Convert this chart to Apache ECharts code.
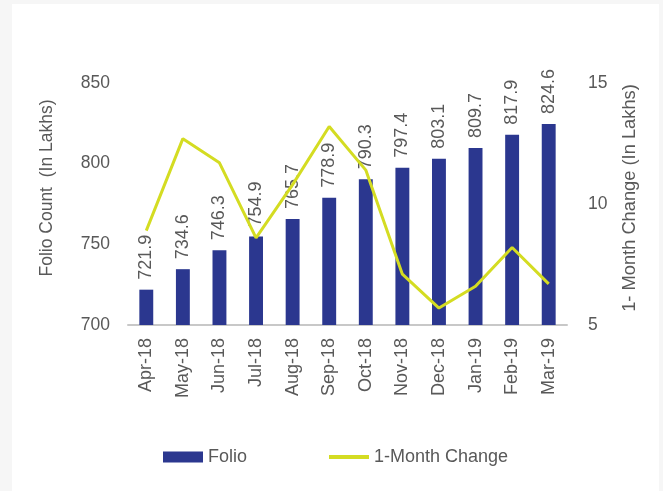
<!DOCTYPE html>
<html>
<head>
<meta charset="utf-8">
<script src="https://cdn.jsdelivr.net/npm/echarts@6/dist/echarts.min.js"></script>
<style>
    html, body { margin: 0; padding: 0; background: #f6f6f6; }
    #card { position: absolute; left: 12px; top: 4px; width: 647px; height: 487px; background: #ffffff; }
    #chart { position: absolute; left: 0; top: 0; width: 663px; height: 491px; }
</style>
</head>
<body>
<div id="card"></div>
<div id="chart"></div>
<script>
var months = ['Apr-18','May-18','Jun-18','Jul-18','Aug-18','Sep-18','Oct-18','Nov-18','Dec-18','Jan-19','Feb-19','Mar-19'];
var folio = [721.9, 734.6, 746.3, 754.9, 765.7, 778.9, 790.3, 797.4, 803.1, 809.7, 817.9, 824.6];
var monthChange = [8.9, 12.7, 11.7, 8.6, 10.8, 13.2, 11.4, 7.1, 5.7, 6.6, 8.2, 6.7];

var textColor = '#595959';
var font = 'Liberation Sans, Arial, sans-serif';

var chart = echarts.init(document.getElementById('chart'));
var option = {
    backgroundColor: 'transparent',
    textStyle: { fontFamily: font },
    animation: false,
    grid: {
        left: 128,
        right: 96,
        top: 83,
        bottom: 166
    },
    legend: {
        left: 158,
        top: 443,
        itemWidth: 40,
        itemHeight: 11,
        itemGap: 80,
        itemTextGap: 5,
        textStyle: { color: textColor, fontSize: 18, fontFamily: font },
        data: [
            { name: 'Folio', icon: 'rect' },
            { name: '1-Month Change', itemStyle: { opacity: 0 }, lineStyle: { width: 4 } }
        ]
    },
    xAxis: {
        type: 'category',
        data: months,
        axisLine: { lineStyle: { color: '#c8c8c8', width: 2 } },
        axisTick: { show: false },
        axisLabel: {
            rotate: 90,
            margin: 13,
            color: textColor,
            fontSize: 18,
            fontFamily: font
        }
    },
    yAxis: [
        {
            type: 'value',
            min: 700,
            max: 850,
            interval: 50,
            name: 'Folio Count  (In Lakhs)',
            nameLocation: 'middle',
            nameRotate: 90,
            nameGap: 72,
            nameTextStyle: { color: textColor, fontSize: 17.5, fontFamily: font, padding: [0, 0, 0, 32] },
            splitLine: { show: false },
            axisLine: { show: false },
            axisTick: { show: false },
            axisLabel: { color: textColor, fontSize: 17.5, margin: 18, fontFamily: font }
        },
        {
            type: 'value',
            min: 5,
            max: 15,
            interval: 5,
            name: '1- Month Change (In Lakhs)',
            nameLocation: 'middle',
            nameRotate: 90,
            nameGap: 54,
            nameTextStyle: { color: textColor, fontSize: 18.3, fontFamily: font, padding: [0, 0, 0, 12] },
            splitLine: { show: false },
            axisLine: { show: false },
            axisTick: { show: false },
            axisLabel: { color: textColor, fontSize: 17.5, margin: 21, fontFamily: font }
        }
    ],
    series: [
        {
            name: 'Folio',
            type: 'bar',
            data: folio,
            barWidth: '38%',
            itemStyle: { color: '#2b378f' },
            label: {
                show: true,
                position: 'top',
                rotate: 90,
                align: 'left',
                verticalAlign: 'middle',
                distance: 10,
                color: textColor,
                fontSize: 18,
                fontFamily: font
            }
        },
        {
            name: '1-Month Change',
            type: 'line',
            yAxisIndex: 1,
            data: monthChange,
            symbol: 'none',
            z: 5,
            lineStyle: { color: '#d4dc22', width: 3 },
            itemStyle: { color: '#d4dc22' }
        }
    ]
};
chart.setOption(option);
window.onresize = chart.resize;
</script>
</body>
</html>
